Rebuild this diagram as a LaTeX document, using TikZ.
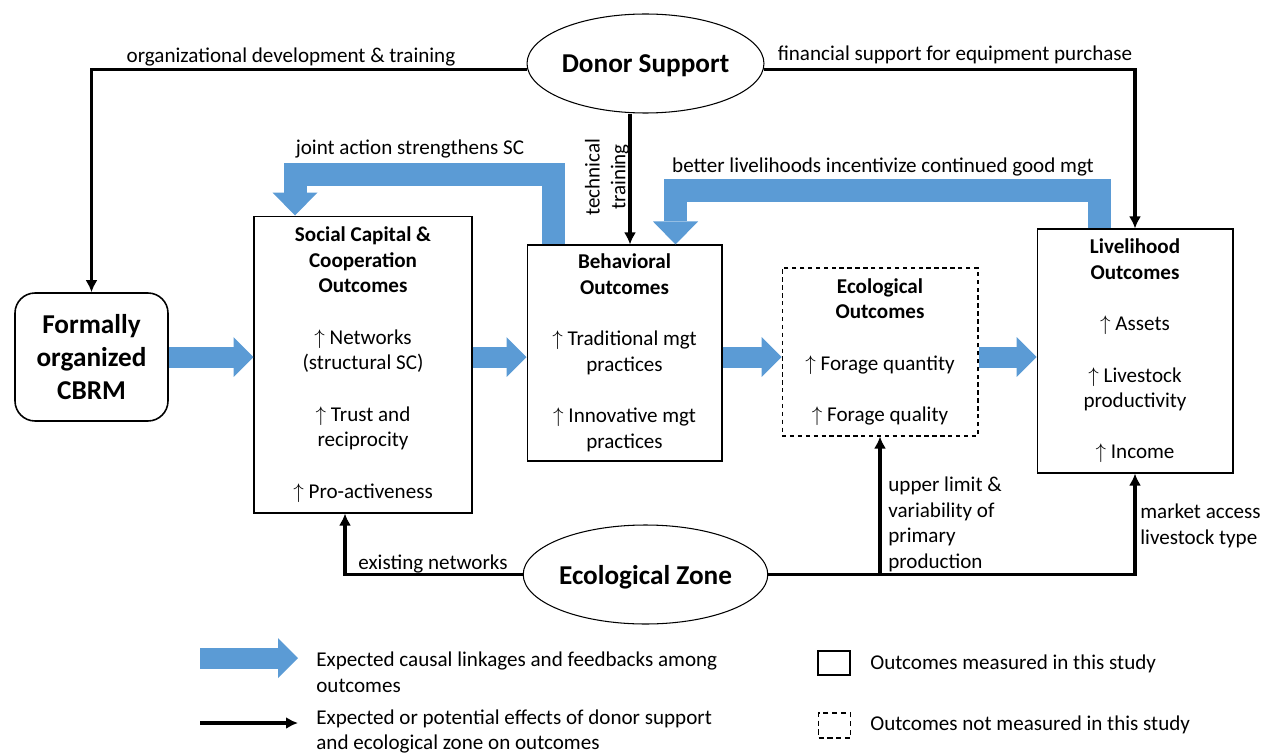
\documentclass[tikz,border=0pt]{standalone}
\usepackage{fontspec}
\setmainfont{Carlito}
\usepackage{xcolor}
\usepackage{tikz}
\usetikzlibrary{arrows.meta}
\usetikzlibrary{calc}
\usetikzlibrary{shapes.geometric}
\usetikzlibrary{positioning}

\definecolor{flowblue}{RGB}{91,155,213}

\tikzset{
  txt/.style={font=\fontsize{12}{14.6}\selectfont, inner sep=0pt},
  outcome/.style={draw, line width=0.6pt, align=center, inner sep=0pt, font=\fontsize{12}{14.6}\selectfont},
  notmeasured/.style={outcome, dash pattern=on 2.5pt off 2pt},
  startbox/.style={draw, line width=0.9pt, rounded corners=0.4cm, align=center, inner sep=0pt, font=\fontsize{15.5}{18.8}\selectfont\bfseries},
  driver/.style={ellipse, draw, line width=0.6pt, inner sep=0pt, text depth=0pt, minimum width=4.74cm, minimum height=1.98cm, font=\fontsize{15.5}{18.8}\selectfont\bfseries},
  effect/.style={line width=2pt, -{Latex[length=0.24cm,width=0.24cm]}},
  flow/.style={draw=flowblue, line width=0.42cm, -{Triangle[length=0.4cm,width=0.8cm,line width=0pt]}},
  feedback/.style={draw=flowblue, line width=0.46cm, line join=miter, -{Triangle[length=0.46cm,width=0.9cm,line width=0pt]}},
}

\begin{document}
\begin{tikzpicture}[x=0.02cm, y=-0.02cm]
  \useasboundingbox (0,0) rectangle (1263,753);

  % outcome boxes
  \node[startbox, minimum width=3.06cm, minimum height=2.56cm] (cbrm) at (91.5,357) {Formally\\organized\\CBRM};
  \node[outcome, minimum width=4.36cm, minimum height=5.94cm] (sc) at (363,364.5)
    {\textbf{Social Capital \&}\\\textbf{Cooperation}\\\textbf{Outcomes}\\[14.6pt]
     $\uparrow$ Networks\\(structural SC)\\[14.6pt]
     $\uparrow$ Trust and\\reciprocity\\[14.6pt]
     $\uparrow$ Pro-activeness};
  \node[outcome, minimum width=3.9cm, minimum height=4.32cm] (beh) at (624.5,353)
    {\textbf{Behavioral}\\\textbf{Outcomes}\\[14.6pt]
     $\uparrow$ Traditional mgt\\practices\\[14.6pt]
     $\uparrow$ Innovative mgt\\practices};
  \node[notmeasured, minimum width=3.92cm, minimum height=3.36cm] (eco) at (880,352)
    {\textbf{Ecological}\\\textbf{Outcomes}\\[14.6pt]
     $\uparrow$ Forage quantity\\[14.6pt]
     $\uparrow$ Forage quality};
  \node[outcome, minimum width=3.92cm, minimum height=4.88cm] (liv) at (1135,351)
    {\textbf{Livelihood}\\\textbf{Outcomes}\\[14.6pt]
     $\uparrow$ Assets\\[14.6pt]
     $\uparrow$ Livestock\\productivity\\[14.6pt]
     $\uparrow$ Income};

  % drivers
  \node[driver] (donor) at (645.5,63.5) {Donor Support};
  \node[driver] (ezone) at (645.5,574.5) {Ecological Zone};

  % causal linkages
  \draw[flow] (cbrm.east) -- (cbrm.east -| sc.west);
  \draw[flow] (sc.east |- cbrm.east) -- (beh.west |- cbrm.east);
  \draw[flow] (beh.east |- cbrm.east) -- (eco.west |- cbrm.east);
  \draw[flow] (eco.east |- cbrm.east) -- (liv.west |- cbrm.east);

  % feedbacks
  \draw[feedback] ($(beh.north)+(-71,0)$) -- ++(0,-70) -| ($(sc.north)+(-68,0)$);
  \draw[feedback] ($(liv.north)+(-36,0)$) -- ++(0,-38) -| ($(beh.north)+(51,0)$);

  % effects of donor support and ecological zone
  \coordinate (techx) at ($(beh.north)+(5.5,0)$);
  \coordinate (netx) at ($(sc.south)+(-18,0)$);
  \draw[effect] (donor.183) -| (cbrm.north);
  \draw[effect] (donor.357) -| (liv.north);
  \draw[effect] (donor.south -| techx) -- (techx);
  \draw[effect] (ezone.west) -| (netx);
  \draw[effect] (ezone.east) -| (liv.south);
  \draw[effect] (ezone.east -| eco.south) -- (eco.south);

  % labels
  \node[txt] (lorg) at (291,57) {organizational development \& training};
  \node[txt] (lfin) at (955,55) {financial support for equipment purchase};
  \node[txt, rotate=90, align=center] (ltech) at (607,177) {technical\\training};
  \node[txt] (ljoint) at (410,149) {joint action strengthens SC};
  \node[txt] (lbetter) at (883,167) {better livelihoods incentivize continued good mgt};
  \node[txt] (lnet) at (433,564) {existing networks};
  \node[txt, anchor=west, align=left] (lupper) at (888,524.5) {upper limit \&\\variability of\\primary\\production};
  \node[txt, anchor=west, align=left] (lmarket) at (1140,526) {market access\\livestock type};

  % legend
  \coordinate (lgA) at (200,658);
  \coordinate (lgB) at (298,658);
  \coordinate (lgC) at (200,723);
  \coordinate (lgD) at (298,723);
  \draw[flow] (lgA) -- (lgB);
  \draw[effect] (lgC) -- (lgD);
  \node[txt, anchor=west, align=left] (lgflowtxt) at (316,672) {Expected causal linkages and feedbacks among\\outcomes};
  \node[txt, anchor=west, align=left] (lgeffecttxt) at (316,731.5) {Expected or potential effects of donor support\\and ecological zone on outcomes};
  \node[draw, line width=0.6pt, minimum width=0.64cm, minimum height=0.48cm, inner sep=0pt] (lgsolid) at (834,663) {};
  \node[draw, line width=0.6pt, dash pattern=on 3pt off 2pt, minimum width=0.64cm, minimum height=0.5cm, inner sep=0pt] (lgdashed) at (834.5,725.5) {};
  \node[txt, anchor=west] (lgsolidtxt) at (870,664) {Outcomes measured in this study};
  \node[txt, anchor=west] (lgdashedtxt) at (870,725) {Outcomes not measured in this study};
\end{tikzpicture}
\end{document}
